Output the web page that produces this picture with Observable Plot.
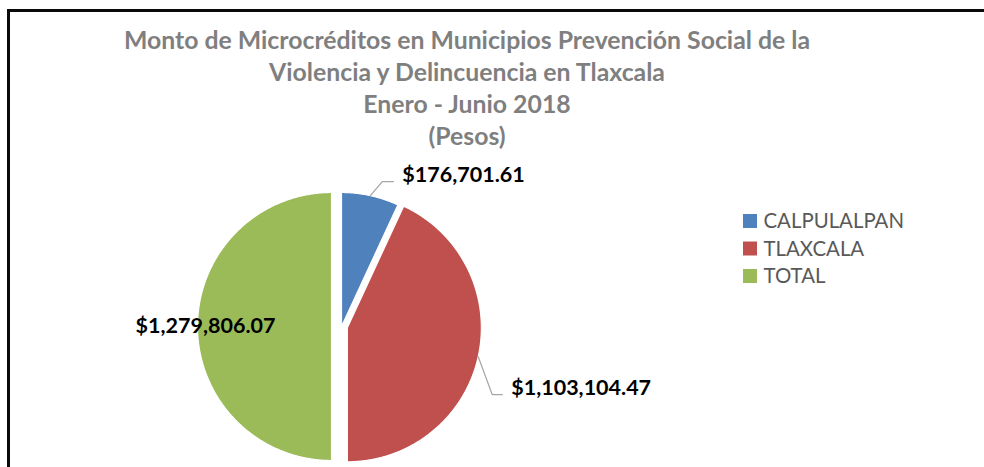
<!DOCTYPE html>
<html><head><meta charset="utf-8">
<script src="https://cdn.jsdelivr.net/npm/d3@7"></script>
<script src="https://cdn.jsdelivr.net/npm/@observablehq/plot@0.6"></script>
<style>
html,body{margin:0;padding:0;background:#fff;overflow:hidden;width:984px;height:467px;position:relative}
#frame{position:absolute;left:7px;top:9px;width:1000px;height:500px;border-top:3px solid #0a0a0a;border-left:3px solid #0a0a0a;}
#title{position:absolute;left:0;top:24px;width:934px;text-align:center;font-family:Lato,"Open Sans",sans-serif;font-weight:bold;font-size:24.8px;line-height:32px;color:#7f7f7f;white-space:nowrap}
#chart{position:absolute;left:0;top:0}
</style></head><body>
<div id="frame"></div>
<div id="title"></div>
<div id="chart"></div>
<script>
// ---- data ----
const categories = ["CALPULALPAN", "TLAXCALA", "TOTAL"];
const values = [176701.61, 1103104.47, 1279806.07];
const valueLabels = ["$176,701.61", "$1,103,104.47", "$1,279,806.07"];
const colors = ["#4f81bd", "#c0504d", "#9bbb59"];
const titleLines = [
  "Monto de Microcréditos en Municipios Prevención Social de la",
  "Violencia y Delincuencia en Tlaxcala",
  "Enero - Junio 2018",
  "(Pesos)"
];

// ---- layout ----
const W = 984, H = 467;
const cx = 341, cy = 326, R = 134;
const explode = [0, 6, 10];
// label layout: [elbow dx, elbow dy, tail length] relative to the arc point (null = no leader)
const leaderLayout = [[12, -14, 11], [14, 38, 10], null];
const labelRadius = [0, 0, 126];

document.getElementById("title").innerHTML = titleLines.map(t => `<div>${t}</div>`).join("");

const data = categories.map((name, i) => ({name, value: values[i], label: valueLabels[i], i}));
const arcs = d3.pie().sort(null).value(d => d.value)(data);

const pt = (a, r, ox, oy) => [ox + r * Math.sin(a), oy - r * Math.cos(a)];

const slicePts = [];
const leaderPts = [];
const labelsStart = [];
const labelsMid = [];
arcs.forEach((a, i) => {
  const mid = (a.startAngle + a.endAngle) / 2;
  const [ox, oy] = pt(mid, explode[i], cx, cy);
  slicePts.push({name: a.data.name, x: ox, y: oy});
  const n = Math.max(2, Math.ceil((a.endAngle - a.startAngle) / (Math.PI / 360)));
  for (let k = 0; k <= n; k++) {
    const ang = a.startAngle + (a.endAngle - a.startAngle) * k / n;
    const [x, y] = pt(ang, R, ox, oy);
    slicePts.push({name: a.data.name, x, y});
  }
  const L = leaderLayout[i];
  if (L) {
    const [sx, sy] = pt(mid, R, ox, oy);
    const ex = sx + L[0], ey = sy + L[1];
    leaderPts.push({k: i, x: sx, y: sy}, {k: i, x: ex, y: ey}, {k: i, x: ex + L[2], y: ey});
    labelsStart.push({text: a.data.label, x: ex + L[2] + 9, y: ey - 7});
  } else {
    const [lx, ly] = pt(mid, labelRadius[i], ox, oy);
    labelsMid.push({text: a.data.label, x: lx, y: ly});
  }
});

const shadowPts = d3.range(0, 361, 2).map(d => {
  const [x, y] = pt(d * Math.PI / 180, R + 9, cx - 3, cy + 1);
  return {x, y};
});

const legendRows = data.map((d, i) => ({name: d.name, row: i}));
const legX = 743, legY = 221, legStep = 27.5, sw = 14;

const labelStyle = {x: "x", y: "y", text: "text", fontSize: 21.5, fontWeight: "bold", fill: "#000", fontFamily: "Lato"};

const plot = Plot.plot({
  width: W, height: H,
  margin: 0,
  x: {domain: [0, W], range: [0, W], axis: null},
  y: {domain: [0, H], range: [0, H], axis: null},
  color: {domain: categories, range: colors},
  style: {fontFamily: "Lato, 'Open Sans', sans-serif", background: "transparent", overflow: "visible"},
  marks: [
    Plot.line(shadowPts, {x: "x", y: "y", curve: "linear-closed", fill: "#8a8a8a", fillOpacity: 0.6, stroke: "none", ariaLabel: "shadow"}),
    Plot.line(slicePts, {x: "x", y: "y", z: "name", fill: "name", stroke: "white", strokeWidth: 1.2, curve: "linear-closed", strokeLinejoin: "round"}),
    Plot.line(leaderPts, {x: "x", y: "y", z: "k", stroke: "#a6a6a6", strokeWidth: 1.3}),
    Plot.text(labelsStart, {...labelStyle, textAnchor: "start"}),
    Plot.text(labelsMid, {...labelStyle, textAnchor: "middle"}),
    Plot.rect(legendRows, {x1: () => legX, x2: () => legX + sw, y1: d => legY + d.row * legStep - sw / 2, y2: d => legY + d.row * legStep + sw / 2, fill: "name"}),
    Plot.text(legendRows, {x: () => legX + sw + 6, y: d => legY + d.row * legStep, text: "name", textAnchor: "start", fontSize: 20.4, fill: "#595959", fontFamily: "Lato"})
  ]
});

// soft shadow blur
const svg = d3.select(plot);
const defs = svg.insert("defs", ":first-child");
defs.append("filter").attr("id", "soft").attr("x", "-30%").attr("y", "-30%").attr("width", "160%").attr("height", "160%")
  .append("feGaussianBlur").attr("stdDeviation", 10);
svg.select('g[aria-label="shadow"]').attr("filter", "url(#soft)");

document.getElementById("chart").appendChild(plot);
</script>
</body></html>
